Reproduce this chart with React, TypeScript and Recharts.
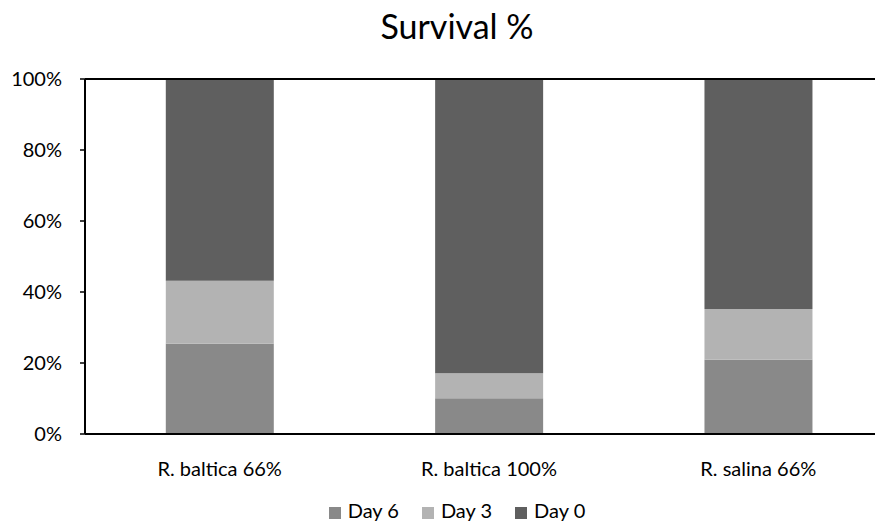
import { BarChart, Bar, XAxis, YAxis, Legend, ReferenceLine } from "recharts";

const CATEGORIES = ["R. baltica 66%", "R. baltica 100%", "R. salina 66%"];
const DAY6 = [25.4, 10.1, 20.9];
const DAY3 = [17.8, 7.0, 14.3];
const DAY0 = [56.8, 82.9, 64.8];
const Y_TICKS = [0, 20, 40, 60, 80, 100];

const SERIES = [
  { key: "day6", label: "Day 6", color: "#898989" },
  { key: "day3", label: "Day 3", color: "#b3b3b3" },
  { key: "day0", label: "Day 0", color: "#5f5f5f" },
];

const data = CATEGORIES.map((name, i) => ({
  name,
  day6: DAY6[i],
  day3: DAY3[i],
  day0: DAY0[i],
}));

const FONT = "Lato, 'Open Sans', sans-serif";

export default function App() {
  return (
    <div style={{ position: "relative", width: 875, height: 523, fontFamily: FONT }}>
      <div style={{ width: 875, height: 523, overflow: "hidden" }}>
        <BarChart
          width={900}
          height={523}
          data={data}
          barCategoryGap="30%"
          margin={{ top: 71, right: 15, bottom: 7, left: 0 }}
        >
          <XAxis
            dataKey="name"
            axisLine={{ stroke: "#000", strokeWidth: 2 }}
            tickLine={false}
            tickSize={6}
            tickMargin={22}
            height={64}
            tick={{ fill: "#000", fontSize: 20, fontFamily: FONT }}
          />
          <YAxis
            domain={[0, 100]}
            ticks={Y_TICKS}
            interval={0}
            width={77}
            axisLine={{ stroke: "#000", strokeWidth: 2 }}
            tickLine={{ stroke: "#000", strokeWidth: 1.5 }}
            tickSize={5}
            tickMargin={18}
            tickFormatter={(v: number) => `${v}%`}
            tick={{ fill: "#000", fontSize: 20, fontFamily: FONT }}
          />
          <ReferenceLine y={100} stroke="#000" strokeWidth={2} />
          <Legend
            verticalAlign="bottom"
            height={26}
            iconType="square"
            iconSize={12}
            itemSorter={(item: any) => SERIES.findIndex((s) => s.label === item.value)}
            wrapperStyle={{ fontSize: 20, fontFamily: FONT, color: "#000", paddingLeft: 18 }}
            formatter={(value: string) => (
              <span style={{ color: "#000", marginLeft: 3, marginRight: 13 }}>{value}</span>
            )}
          />
          {SERIES.map((s) => (
            <Bar
              key={s.key}
              dataKey={s.key}
              name={s.label}
              stackId="a"
              fill={s.color}
              isAnimationActive={false}
            />
          ))}
        </BarChart>
      </div>
      <div
        style={{
          position: "absolute",
          left: 249,
          top: -3,
          width: 400,
          textAlign: "center",
          fontSize: 34,
          lineHeight: "41px",
          color: "#000",
        }}
      >
        Survival %
      </div>
    </div>
  );
}
